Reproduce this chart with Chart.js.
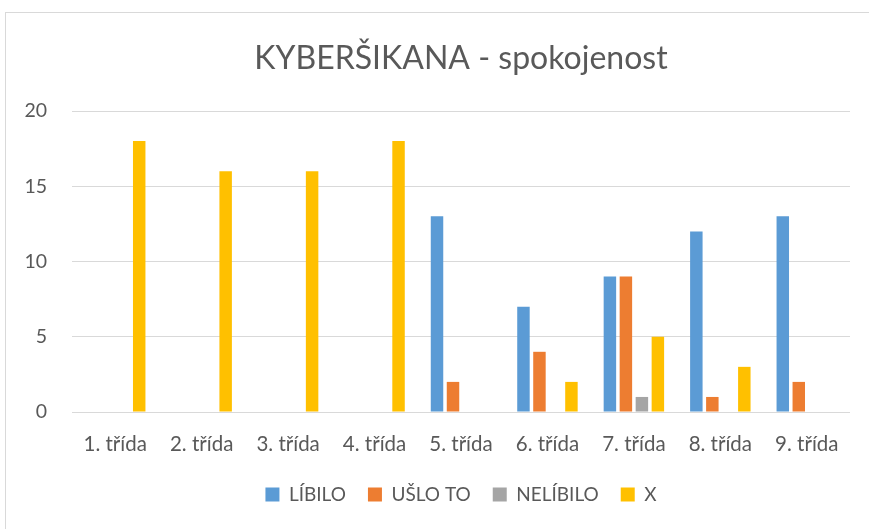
<!DOCTYPE html>
<html>
<head>
<meta charset="utf-8">
<script src="https://cdn.jsdelivr.net/npm/chart.js@4/dist/chart.umd.min.js"></script>
<style>
  html, body { margin: 0; padding: 0; background: #fff; overflow: hidden; }
  #frame { position: absolute; left: 5px; top: 12px; width: 900px; height: 600px; border: 1px solid #d9d9d9; }
  #wrap { position: absolute; left: 0; top: 0; width: 869px; height: 529px; }
</style>
</head>
<body>
<div id="frame"></div>
<div id="wrap"><canvas id="c" width="869" height="529"></canvas></div>
<script>
const categories = ["1. třída", "2. třída", "3. třída", "4. třída", "5. třída", "6. třída", "7. třída", "8. třída", "9. třída"];
const libilo   = [0, 0, 0, 0, 13, 7, 9, 12, 13];
const usloTo   = [0, 0, 0, 0, 2, 4, 9, 1, 2];
const nelibilo = [0, 0, 0, 0, 0, 0, 1, 0, 0];
const xSeries  = [18, 16, 16, 18, 0, 2, 5, 3, 0];
const yTicks   = [0, 5, 10, 15, 20];
const seriesNames = ["LÍBILO", "UŠLO TO", "NELÍBILO", "X"];

const FONT = "Lato, 'Open Sans', sans-serif";
const TXT = "#595959";

new Chart(document.getElementById('c'), {
  type: 'bar',
  data: {
    labels: categories,
    datasets: [
      { label: seriesNames[0], data: libilo,   backgroundColor: '#5B9BD5' },
      { label: seriesNames[1], data: usloTo,   backgroundColor: '#ED7D31' },
      { label: seriesNames[2], data: nelibilo, backgroundColor: '#A5A5A5' },
      { label: seriesNames[3], data: xSeries,  backgroundColor: '#FFC000' }
    ]
  },
  options: {
    responsive: false,
    animation: false,
    devicePixelRatio: 1,
    layout: { padding: { left: 20, right: 19, top: 12, bottom: 15 } },
    datasets: { bar: { categoryPercentage: 0.74, barPercentage: 0.78, borderWidth: 0 } },
    plugins: {
      tooltip: { enabled: false },
      title: {
        display: true,
        text: 'KYBERŠIKANA - spokojenost',
        color: TXT,
        font: { family: FONT, size: 32, weight: 'normal' },
        padding: { top: 27, bottom: 33.6 },
        fullSize: false
      },
      legend: {
        position: 'bottom',
        fullSize: false,
        labels: {
          color: TXT,
          font: { family: FONT, size: 19 },
          boxWidth: 14,
          boxHeight: 14,
          padding: 22
        }
      }
    },
    scales: {
      x: {
        grid: { display: false, drawTicks: false },
        border: { display: false },
        ticks: { color: TXT, font: { family: FONT, size: 20.5 }, padding: 20, maxRotation: 0 },
        afterFit: (s) => { s.height = 51; }
      },
      y: {
        min: 0, max: 20,
        afterBuildTicks: (s) => { s.ticks = yTicks.map(v => ({ value: v })); },
        grid: { color: '#d9d9d9', lineWidth: 1, drawTicks: false },
        border: { display: false },
        ticks: { color: TXT, font: { family: FONT, size: 19.5 }, padding: 25 },
        afterFit: (s) => { s.width = 52; }
      }
    }
  }
});
</script>
</body>
</html>
